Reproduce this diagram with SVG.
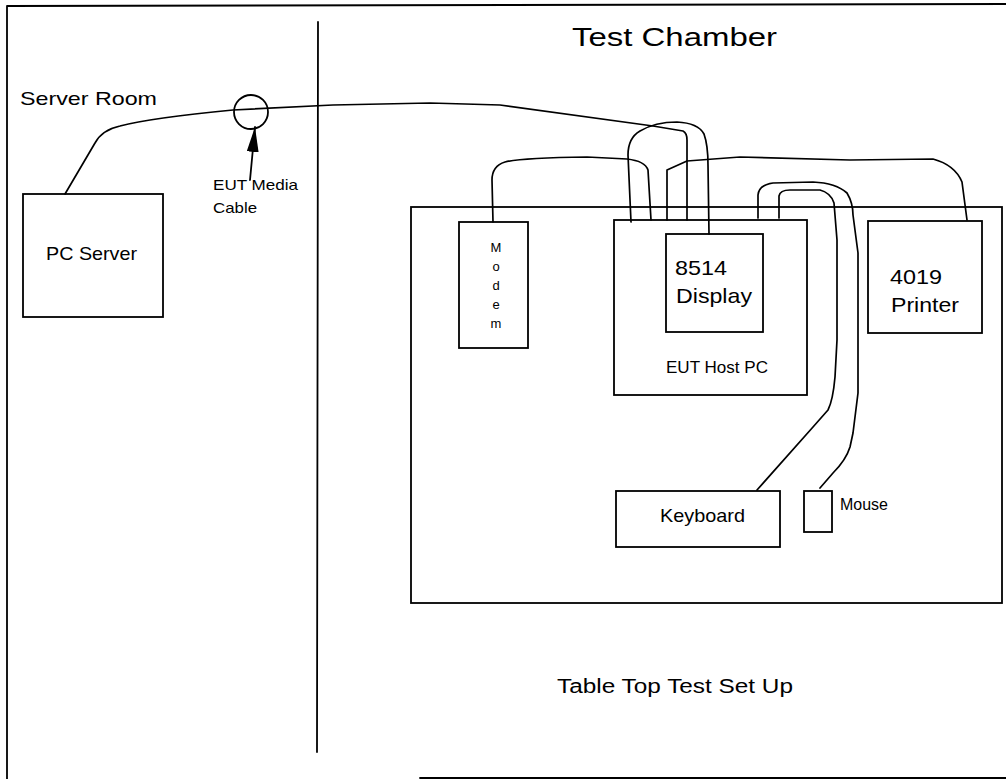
<svg xmlns="http://www.w3.org/2000/svg" width="1006" height="779" viewBox="0 0 1006 779">
<style>
.box{fill:none;stroke:#000;stroke-width:1.8}
.ln{fill:none;stroke:#000;stroke-width:1.8;stroke-linejoin:round;stroke-linecap:round}
.cab{fill:none;stroke:#000;stroke-width:1.7;stroke-linejoin:round;stroke-linecap:round}
text{font-family:"Liberation Sans",Arial,sans-serif;fill:#000}
</style>
<defs>
<marker id="ah" viewBox="0 0 25 12" refX="25" refY="6" markerWidth="25" markerHeight="12" orient="auto" markerUnits="userSpaceOnUse">
<path d="M0,0 L25,6 L0,12 z" fill="#000"/>
</marker>
</defs>
<rect width="1006" height="779" fill="#fff"/>
<g id="frame">
<path class="ln" d="M7,779 L7,6 L1006,4"/>
<path class="ln" d="M420,778 L1006,778"/>
<path class="ln" d="M318,22 L317,752"/>
<text x="20" y="105" font-size="18.6" textLength="137" lengthAdjust="spacingAndGlyphs">Server Room</text>
<text x="572" y="46" font-size="26.5" textLength="205" lengthAdjust="spacingAndGlyphs">Test Chamber</text>
</g>
<g id="table">
<rect class="box" x="411" y="207" width="591" height="396"/>
<text x="557" y="693" font-size="20" textLength="236" lengthAdjust="spacingAndGlyphs">Table Top Test Set Up</text>
</g>
<g id="pc-server">
<rect class="box" x="23" y="194" width="140" height="123"/>
<text x="46" y="260" font-size="19" textLength="91" lengthAdjust="spacingAndGlyphs">PC Server</text>
</g>
<g id="media-cable-marker">
<circle class="box" cx="251" cy="112" r="17"/>
<line class="ln" x1="250" y1="180" x2="255" y2="127" stroke-width="1.8" marker-end="url(#ah)"/>
<text x="213" y="190" font-size="14.5" textLength="85" lengthAdjust="spacingAndGlyphs">EUT Media</text>
<text x="213" y="213" font-size="14.5" textLength="44" lengthAdjust="spacingAndGlyphs">Cable</text>
</g>
<g id="modem">
<rect class="box" x="459" y="222" width="69" height="126"/>
<g font-size="13" text-anchor="middle">
<text x="496" y="252">M</text>
<text x="496" y="271">o</text>
<text x="496" y="290">d</text>
<text x="496" y="309">e</text>
<text x="496" y="328">m</text>
</g>
</g>
<g id="eut-host-pc">
<rect class="box" x="614" y="220" width="193" height="175"/>
<text x="666" y="373" font-size="16.5" textLength="102" lengthAdjust="spacingAndGlyphs">EUT Host PC</text>
</g>
<g id="display">
<rect class="box" x="666" y="234" width="97" height="98"/>
<text x="675" y="275" font-size="21" textLength="52" lengthAdjust="spacingAndGlyphs">8514</text>
<text x="676" y="303" font-size="21" textLength="76" lengthAdjust="spacingAndGlyphs">Display</text>
</g>
<g id="printer">
<rect class="box" x="868" y="221" width="114" height="112"/>
<text x="890" y="284" font-size="21" textLength="52" lengthAdjust="spacingAndGlyphs">4019</text>
<text x="891" y="312" font-size="21" textLength="68" lengthAdjust="spacingAndGlyphs">Printer</text>
</g>
<g id="keyboard">
<rect class="box" x="616" y="491" width="164" height="56"/>
<text x="660" y="522" font-size="19" textLength="85" lengthAdjust="spacingAndGlyphs">Keyboard</text>
</g>
<g id="mouse">
<rect class="box" x="804" y="491" width="28" height="41"/>
<text x="840" y="510" font-size="16" textLength="48" lengthAdjust="spacingAndGlyphs">Mouse</text>
</g>
<g id="connectors">
<path class="cab" d="M65,194 L95,143 Q102,130 120,126 Q150,118 233,110 L333,105 L430,103 L500,105 L653,126 L683,131 Q687,133 687,140 L687,220"/>
<path class="cab" d="M631,222 L628,155 Q628,138 640,131 Q655,122 677,122 Q698,123 704,134 Q708,145 708,165 L709,234"/>
<path class="cab" d="M493,222 L492,180 Q492,166 505,162 Q520,158 587,157 L627,159 Q645,161 648,170 L651,220"/>
<path class="cab" d="M667,220 L667,170 L687,161 L740,157 L850,160 L933,159 Q955,165 962,182 L967,220"/>
<path class="cab" d="M758,218 L758,195 Q759,185 773,183 L813,182 Q836,183 847,193 Q853,203 853,215 L858,253 L858,393 L853,433 L850,447 Q846,460 833,473 L820,488"/>
<path class="cab" d="M779,218 L779,196 Q780,190 790,190 L820,190 Q831,193 834,203 L837,240 L837,340 L835,377 Q833,400 828,410 L813,427 L757,490"/>
</g>
</svg>
